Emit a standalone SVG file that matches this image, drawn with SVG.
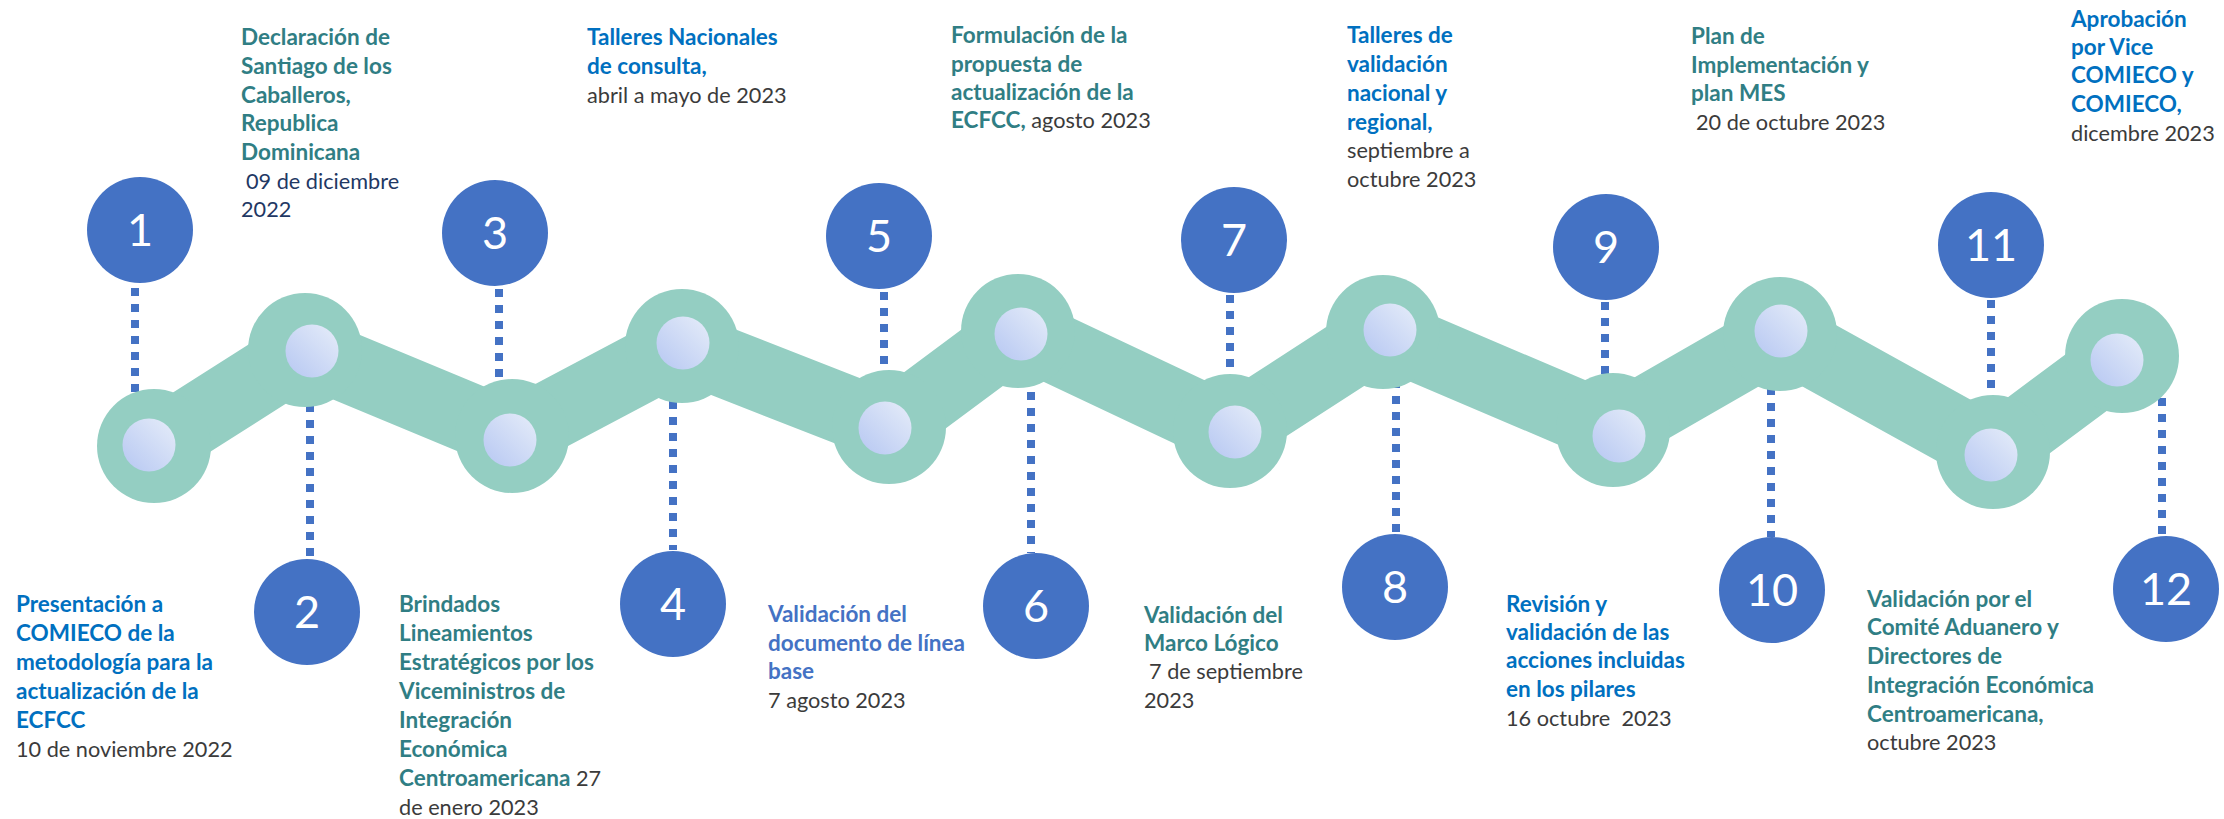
<svg xmlns="http://www.w3.org/2000/svg" width="2224" height="819" viewBox="0 0 2224 819">
<defs>
<linearGradient id="ig" x1="0" y1="1" x2="1" y2="0">
<stop offset="0" stop-color="#b6c7f2"/>
<stop offset="1" stop-color="#e6edf9"/>
</linearGradient>
<style>
.dash{stroke:#4472c4;stroke-width:8;stroke-dasharray:8 8;fill:none}
.band{fill:none;stroke:#94cec2;stroke-width:70;stroke-linejoin:round}
.outer{fill:#94cec2}
.inner{fill:url(#ig)}
.num{fill:#4472c4}
.numt{fill:#ffffff;font-family:Lato,"Open Sans",sans-serif;font-size:45px;text-anchor:middle}
.t{font-family:Lato,"Liberation Sans",sans-serif;font-size:22.5px}
.b{font-weight:bold}
.r{font-size:21.7px;font-weight:normal}
.teal{fill:#307e84}
.blue{fill:#0070c0}
.blue2{fill:#4472c4}
.gray{fill:#3b3b3b}
.navy{fill:#1f3864}
</style>
</defs>
<rect width="2224" height="819" fill="#ffffff"/>
<g id="connectors">
<line class="dash" x1="135" y1="288" x2="135" y2="430"/>
<line class="dash" x1="310" y1="404" x2="310" y2="557"/>
<line class="dash" x1="499" y1="289" x2="499" y2="420"/>
<line class="dash" x1="673" y1="401" x2="673" y2="550"/>
<line class="dash" x1="884" y1="292" x2="884" y2="400"/>
<line class="dash" x1="1031" y1="392" x2="1031" y2="553"/>
<line class="dash" x1="1230" y1="295" x2="1230" y2="420"/>
<line class="dash" x1="1396" y1="380" x2="1396" y2="533"/>
<line class="dash" x1="1605" y1="302" x2="1605" y2="420"/>
<line class="dash" x1="1771" y1="387" x2="1771" y2="537"/>
<line class="dash" x1="1991" y1="300" x2="1991" y2="430"/>
<line class="dash" x1="2162" y1="398" x2="2162" y2="536"/>
</g>
<g id="band">
<polyline class="band" points="154,446 305,350 512,436 682,346 889,427 1018,331 1230,431 1383,332 1613,430 1780,334 1993,452 2122,356"/>
</g>
<g id="nodeA"><circle class="outer" cx="154" cy="446" r="57"/><circle class="inner" cx="149" cy="445" r="26.5"/></g>
<g id="nodeB"><circle class="outer" cx="305" cy="350" r="57"/><circle class="inner" cx="312" cy="351" r="26.5"/></g>
<g id="nodeC"><circle class="outer" cx="512" cy="436" r="57"/><circle class="inner" cx="510" cy="440" r="26.5"/></g>
<g id="nodeD"><circle class="outer" cx="682" cy="346" r="57"/><circle class="inner" cx="683" cy="343" r="26.5"/></g>
<g id="nodeE"><circle class="outer" cx="889" cy="427" r="57"/><circle class="inner" cx="885" cy="428" r="26.5"/></g>
<g id="nodeF"><circle class="outer" cx="1018" cy="331" r="57"/><circle class="inner" cx="1021" cy="334" r="26.5"/></g>
<g id="nodeG"><circle class="outer" cx="1230" cy="431" r="57"/><circle class="inner" cx="1235" cy="432" r="26.5"/></g>
<g id="nodeH"><circle class="outer" cx="1383" cy="332" r="57"/><circle class="inner" cx="1390" cy="330" r="26.5"/></g>
<g id="nodeI"><circle class="outer" cx="1613" cy="430" r="57"/><circle class="inner" cx="1619" cy="436" r="26.5"/></g>
<g id="nodeJ"><circle class="outer" cx="1780" cy="334" r="57"/><circle class="inner" cx="1781" cy="331" r="26.5"/></g>
<g id="nodeK"><circle class="outer" cx="1993" cy="452" r="57"/><circle class="inner" cx="1991" cy="455" r="26.5"/></g>
<g id="nodeL"><circle class="outer" cx="2122" cy="356" r="57"/><circle class="inner" cx="2117" cy="360" r="26.5"/></g>
<g id="n1"><circle class="num" cx="140" cy="230" r="53"/><text class="numt" x="140" y="246">1</text></g>
<g id="n2"><circle class="num" cx="307" cy="612" r="53"/><text class="numt" x="307" y="628">2</text></g>
<g id="n3"><circle class="num" cx="495" cy="233" r="53"/><text class="numt" x="495" y="249">3</text></g>
<g id="n4"><circle class="num" cx="673" cy="604" r="53"/><text class="numt" x="673" y="620">4</text></g>
<g id="n5"><circle class="num" cx="879" cy="236" r="53"/><text class="numt" x="879" y="252">5</text></g>
<g id="n6"><circle class="num" cx="1036" cy="606" r="53"/><text class="numt" x="1036" y="622">6</text></g>
<g id="n7"><circle class="num" cx="1234" cy="240" r="53"/><text class="numt" x="1234" y="256">7</text></g>
<g id="n8"><circle class="num" cx="1395" cy="587" r="53"/><text class="numt" x="1395" y="603">8</text></g>
<g id="n9"><circle class="num" cx="1606" cy="247" r="53"/><text class="numt" x="1606" y="263">9</text></g>
<g id="n10"><circle class="num" cx="1772" cy="590" r="53"/><text class="numt" x="1772" y="606">10</text></g>
<g id="n11"><circle class="num" cx="1991" cy="245" r="53"/><text class="numt" x="1991" y="261">11</text></g>
<g id="n12"><circle class="num" cx="2166" cy="589" r="53"/><text class="numt" x="2166" y="605">12</text></g>
<g id="label2">
<text class="t b teal"><tspan x="241" y="45">Declaración de</tspan><tspan x="241" y="74">Santiago de los</tspan><tspan x="241" y="103">Caballeros,</tspan><tspan x="241" y="131">Republica</tspan><tspan x="241" y="160">Dominicana</tspan></text>
<text class="t r navy"><tspan x="246" y="189">09 de diciembre</tspan><tspan x="241" y="217">2022</tspan></text>
</g>
<g id="label4">
<text class="t b blue"><tspan x="587" y="45">Talleres Nacionales</tspan><tspan x="587" y="74">de consulta,</tspan></text>
<text class="t r gray" x="587" y="103">abril a mayo de 2023</text>
</g>
<g id="label6">
<text class="t b teal"><tspan x="951" y="43">Formulación de la</tspan><tspan x="951" y="72">propuesta de</tspan><tspan x="951" y="100">actualización de la</tspan><tspan x="951" y="128">ECFCC,</tspan><tspan class="r gray"> agosto 2023</tspan></text>
</g>
<g id="label8">
<text class="t b blue"><tspan x="1347" y="43">Talleres de</tspan><tspan x="1347" y="72">validación</tspan><tspan x="1347" y="101">nacional y</tspan><tspan x="1347" y="130">regional,</tspan></text>
<text class="t r gray"><tspan x="1347" y="158">septiembre a</tspan><tspan x="1347" y="187">octubre 2023</tspan></text>
</g>
<g id="label10">
<text class="t b teal"><tspan x="1691" y="44">Plan de</tspan><tspan x="1691" y="73">Implementación y</tspan><tspan x="1691" y="101">plan MES</tspan></text>
<text class="t r gray" x="1696" y="130">20 de octubre 2023</text>
</g>
<g id="label12">
<text class="t b blue"><tspan x="2071" y="27">Aprobación</tspan><tspan x="2071" y="55">por Vice</tspan><tspan x="2071" y="83">COMIECO y</tspan><tspan x="2071" y="112">COMIECO,</tspan></text>
<text class="t r gray" x="2071" y="141">dicembre 2023</text>
</g>
<g id="label1">
<text class="t b blue"><tspan x="16" y="612">Presentación a</tspan><tspan x="16" y="641">COMIECO de la</tspan><tspan x="16" y="670">metodología para la</tspan><tspan x="16" y="699">actualización de la</tspan><tspan x="16" y="728">ECFCC</tspan></text>
<text class="t r gray" x="16" y="757">10 de noviembre 2022</text>
</g>
<g id="label3">
<text class="t b teal"><tspan x="399" y="612">Brindados</tspan><tspan x="399" y="641">Lineamientos</tspan><tspan x="399" y="670">Estratégicos por los</tspan><tspan x="399" y="699">Viceministros de</tspan><tspan x="399" y="728">Integración</tspan><tspan x="399" y="757">Económica</tspan><tspan x="399" y="786">Centroamericana</tspan><tspan class="r gray"> 27</tspan></text>
<text class="t r gray" x="399" y="815">de enero 2023</text>
</g>
<g id="label5">
<text class="t b blue2"><tspan x="768" y="622">Validación del</tspan><tspan x="768" y="651">documento de línea</tspan><tspan x="768" y="679">base</tspan></text>
<text class="t r gray" x="768" y="708">7 agosto 2023</text>
</g>
<g id="label7">
<text class="t b teal"><tspan x="1144" y="623">Validación del</tspan><tspan x="1144" y="651">Marco Lógico</tspan></text>
<text class="t r gray"><tspan x="1149" y="679">7 de septiembre</tspan><tspan x="1144" y="708">2023</tspan></text>
</g>
<g id="label9">
<text class="t b blue"><tspan x="1506" y="612">Revisión y</tspan><tspan x="1506" y="640">validación de las</tspan><tspan x="1506" y="668">acciones incluidas</tspan><tspan x="1506" y="697">en los pilares</tspan></text>
<text class="t r gray" x="1506" y="726" xml:space="preserve">16 octubre  2023</text>
</g>
<g id="label11">
<text class="t b teal"><tspan x="1867" y="607">Validación por el</tspan><tspan x="1867" y="635">Comité Aduanero y</tspan><tspan x="1867" y="664">Directores de</tspan><tspan x="1867" y="693">Integración Económica</tspan><tspan x="1867" y="722">Centroamericana,</tspan></text>
<text class="t r gray" x="1867" y="750">octubre 2023</text>
</g>
</svg>
